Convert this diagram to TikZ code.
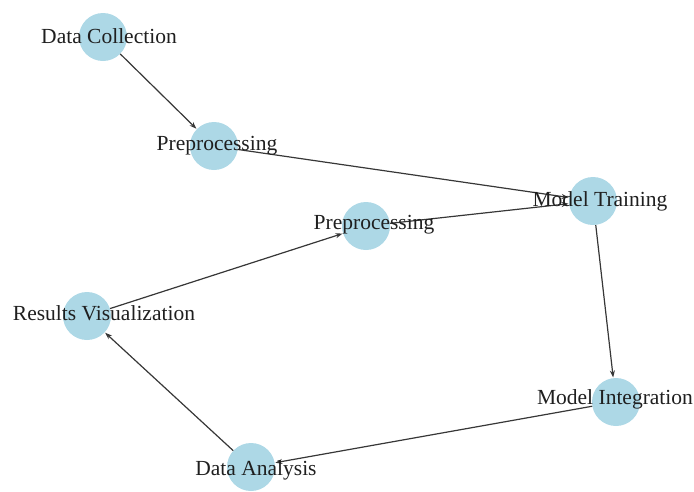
\documentclass[tikz,border=0pt]{standalone}
\usepackage{fontspec}
\setmainfont{Liberation Serif}
\usetikzlibrary{arrows.meta}
\definecolor{nodeblue}{RGB}{173,216,230}
\definecolor{edgegray}{RGB}{55,55,55}
\tikzset{
  vtx/.style={circle, fill=nodeblue, draw=none, minimum size=48pt, inner sep=0pt},
  lbl/.style={inner sep=0pt, anchor=base, font=\fontsize{21.5}{25}\selectfont, text=black!88},
  edge/.style={draw=edgegray, line width=1.2pt, -{Stealth[length=7pt,width=5pt]}, shorten >=0.5pt}
}
\begin{document}
\begin{tikzpicture}[x=1pt,y=-1pt]
\useasboundingbox (0,0) rectangle (694,491);
\node[vtx] (dc) at (103,37) {};
\node[vtx] (p1) at (214,146) {};
\node[vtx] (mt) at (593,201) {};
\node[vtx] (p2) at (366,226) {};
\node[vtx] (rv) at (87,316) {};
\node[vtx] (mi) at (616,402) {};
\node[vtx] (da) at (251,467) {};
\draw[edge] (dc) -- (p1);
\draw[edge] (p1) -- (mt);
\draw[edge] (p2) -- (mt);
\draw[edge] (mt) -- (mi);
\draw[edge] (mi) -- (da);
\draw[edge] (da) -- (rv);
\draw[edge] (rv) -- (p2);
\node[lbl] (ldc) at (109,43) {Data Collection};
\node[lbl] (lp1) at (217,150) {Preprocessing};
\node[lbl] (lmt) at (600,206) {Model Training};
\node[lbl] (lp2) at (374,229) {Preprocessing};
\node[lbl] (lrv) at (104,320) {Results Visualization};
\node[lbl] (lmi) at (615,404) {Model Integration};
\node[lbl] (lda) at (256,475) {Data Analysis};
\end{tikzpicture}
\end{document}
